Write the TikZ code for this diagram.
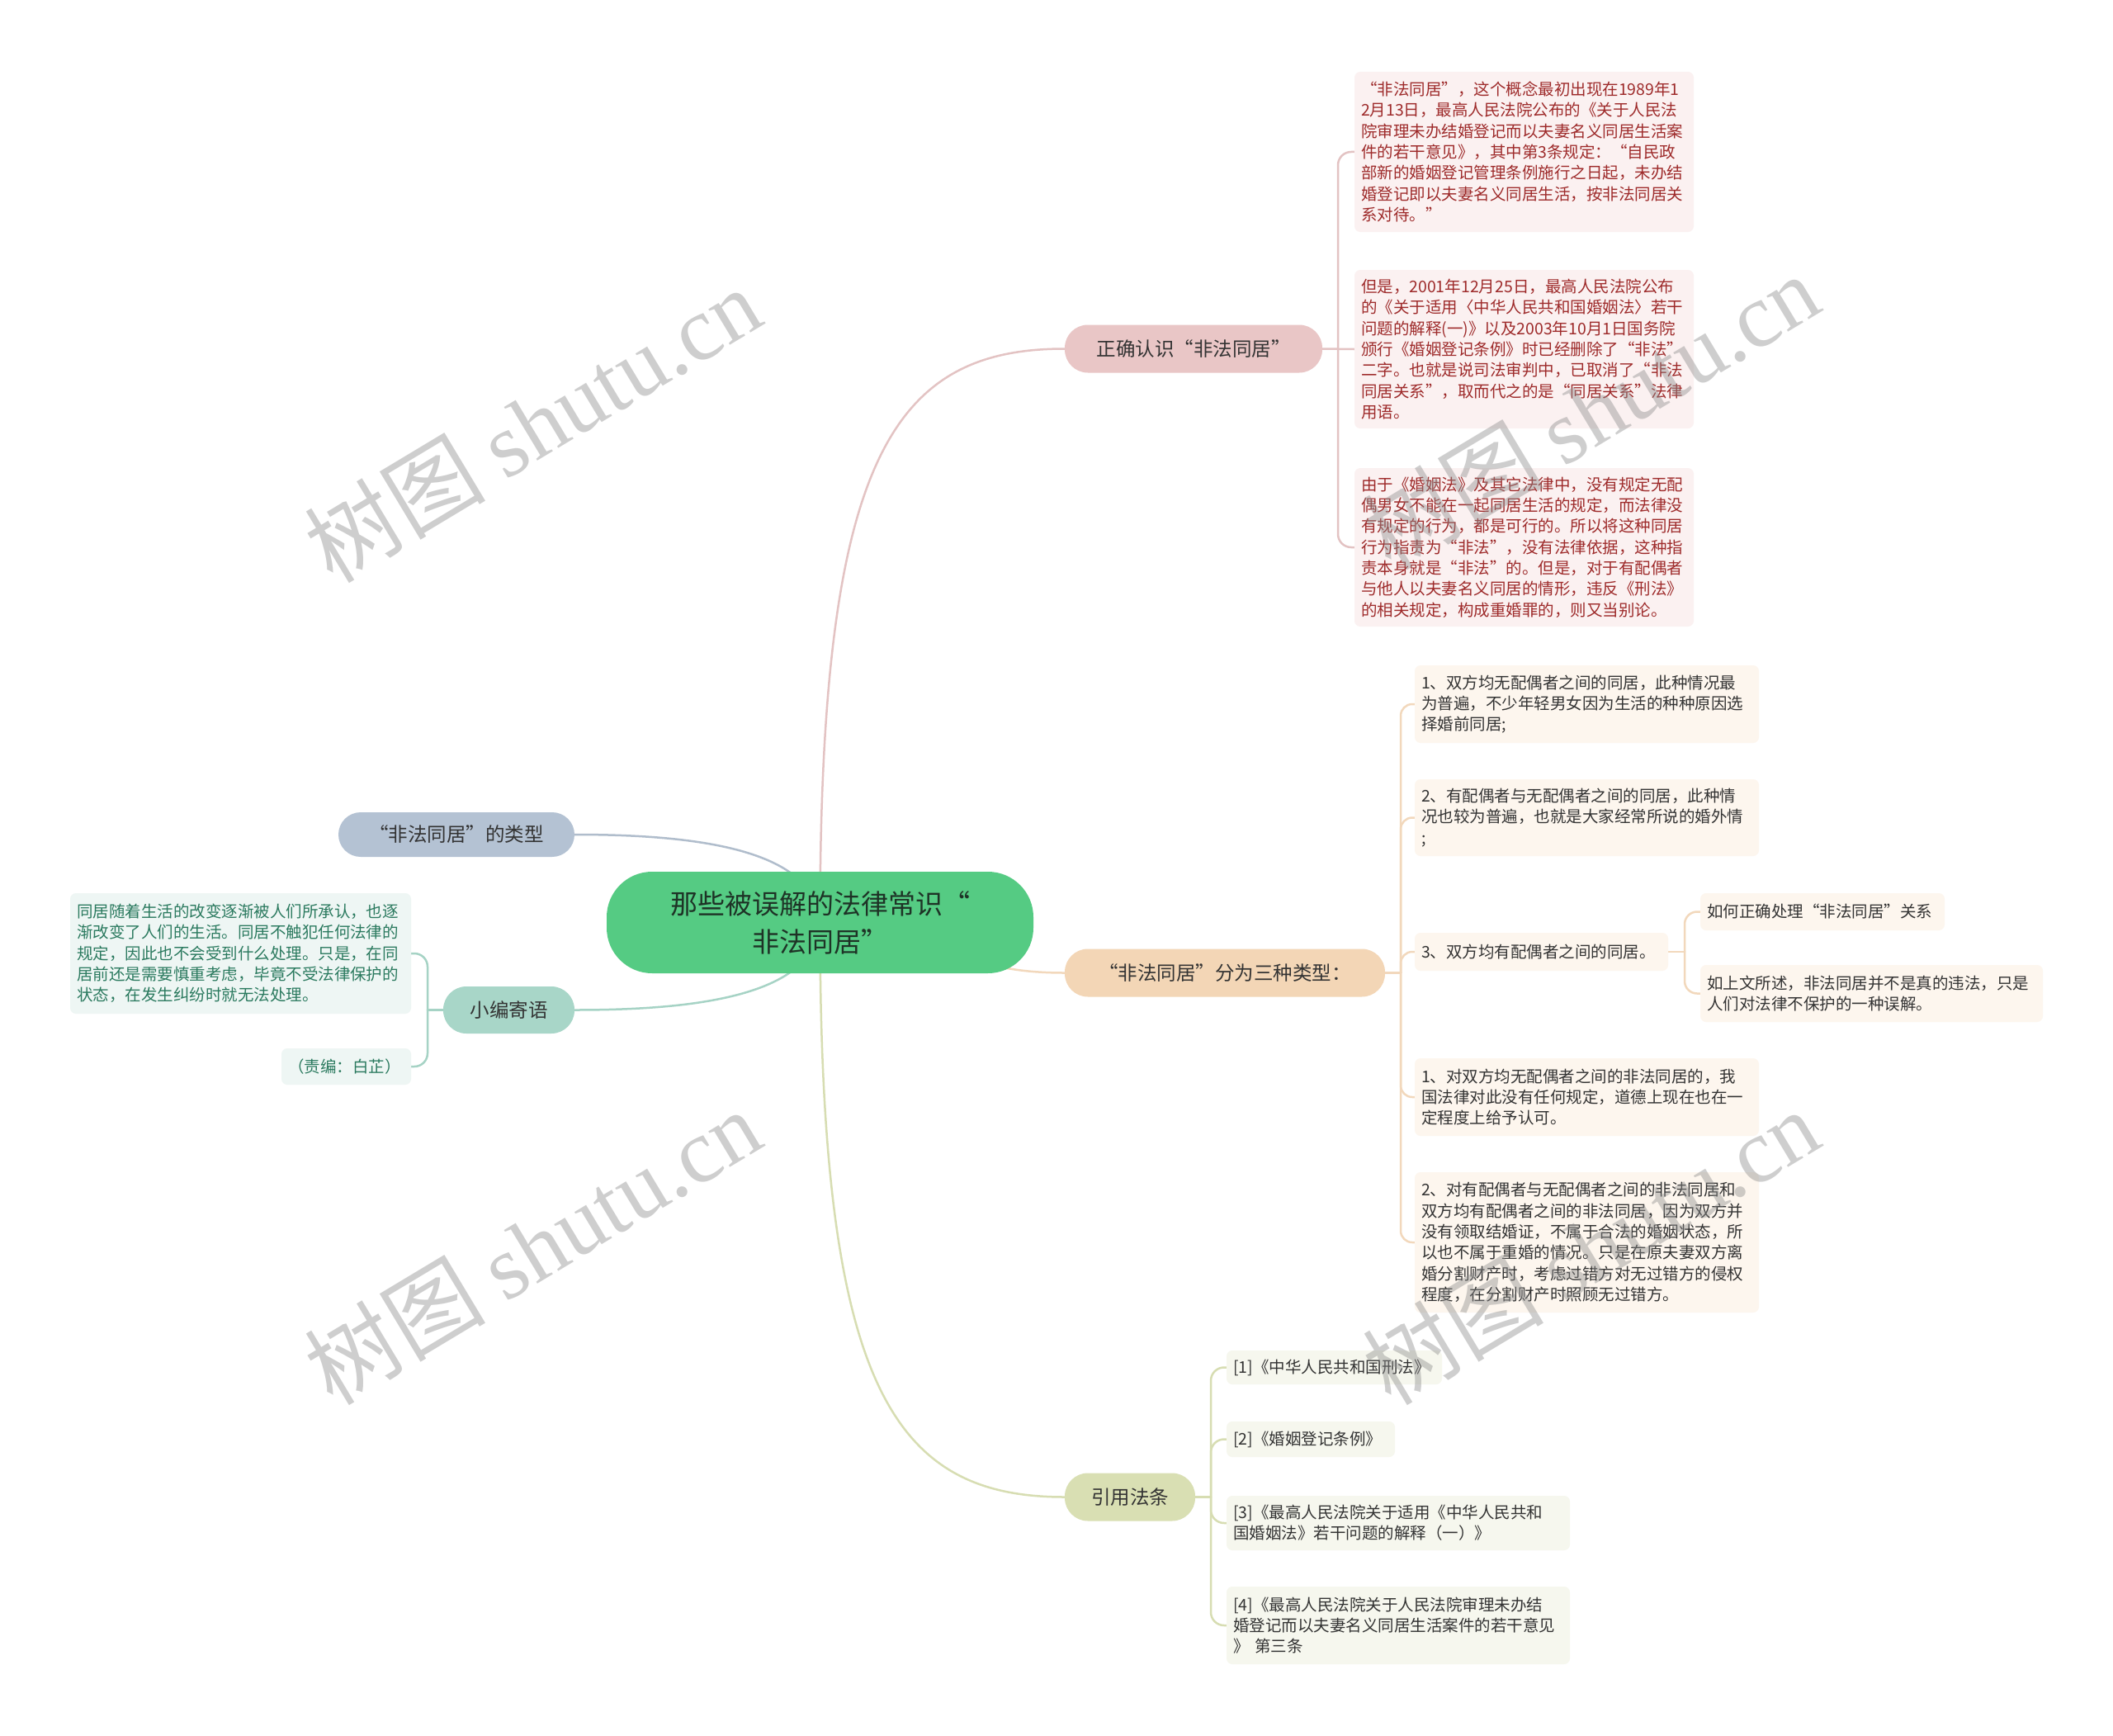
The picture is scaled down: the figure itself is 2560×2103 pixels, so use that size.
\documentclass[tikz,border=0pt]{standalone}
\usepackage{fontspec}
\setmainfont{Noto Sans CJK SC}
\newfontfamily\wmserif{Liberation Serif}
\usetikzlibrary{backgrounds}
\definecolor{rootfill}{HTML}{55CB83}
\definecolor{roottext}{HTML}{1E3326}
\definecolor{txtdark}{HTML}{333333}
\definecolor{zqfill}{HTML}{E9C6C6}
\definecolor{zqline}{HTML}{E3C3C3}
\definecolor{zqbox}{HTML}{FBF1F1}
\definecolor{zqtext}{HTML}{9E2B2B}
\definecolor{lxfill}{HTML}{F3D6B6}
\definecolor{lxline}{HTML}{F2D8BC}
\definecolor{lxbox}{HTML}{FDF6EE}
\definecolor{yyfill}{HTML}{D9DFB3}
\definecolor{yyline}{HTML}{D7DDB2}
\definecolor{yybox}{HTML}{F6F7EE}
\definecolor{ltfill}{HTML}{B4C2D3}
\definecolor{ltline}{HTML}{B0BDCC}
\definecolor{xbfill}{HTML}{A8D6C8}
\definecolor{xbline}{HTML}{A6D3C5}
\definecolor{xbbox}{HTML}{EEF6F4}
\definecolor{xbtext}{HTML}{2B7A5F}
\newcommand\leaffont{\fontsize{19.5pt}{25.3pt}\selectfont}
\newcommand\branchfont{\fontsize{23.5pt}{28pt}\selectfont}
\newcommand\rootfont{\fontsize{33pt}{46pt}\selectfont}
\newcommand\wmfont{\fontsize{110pt}{120pt}\selectfont}
\tikzset{
  leaf/.style={rounded corners=7pt, inner xsep=8pt, inner ysep=0pt, align=left, font=\leaffont},
  zqleaf/.style={leaf, fill=zqbox, text=zqtext},
  lxleaf/.style={leaf, fill=lxbox, text=txtdark},
  yyleaf/.style={leaf, fill=yybox, text=txtdark},
  xbleaf/.style={leaf, fill=xbbox, text=xbtext},
  branch/.style={rounded corners=28pt, minimum height=58pt, inner sep=0pt, font=\branchfont, text=txtdark},
  conn/.style={line width=2.5pt, line cap=round},
  wm/.style={rotate=31, text=black!45, opacity=0.42, font=\wmfont, inner sep=0pt},
}
\begin{document}
\begin{tikzpicture}[x=1pt,y=-1pt]
\useasboundingbox (0,0) rectangle (2560,2103);

% root
\node[fill=rootfill, rounded corners=55pt, minimum width=517pt, minimum height=123pt, inner sep=0pt,
      align=center, font=\rootfont, text=roottext] (root) at (993.5,1117.5)
      {那些被误解的法律常识“\\非法同居”};

% branches
\node[branch, fill=zqfill, minimum width=312pt] (zq) at (1446,422.5) {正确认识“非法同居”};
\node[branch, fill=lxfill, minimum width=388pt] (lx) at (1484,1178.5) {“非法同居”分为三种类型：};
\node[branch, fill=yyfill, minimum width=158pt] (yy) at (1369,1813.5) {引用法条};
\node[branch, fill=ltfill, minimum width=286pt, minimum height=54pt, rounded corners=27pt] (lt) at (553,1011) {“非法同居”的类型};
\node[branch, fill=xbfill, minimum width=159pt, minimum height=57pt] (xb) at (616.5,1223.5) {小编寄语};

% zq leaves
\node[zqleaf, text width=395pt, minimum height=194pt] (t1) at (1846.5,184) {“非法同居”，这个概念最初出现在1989年1\\2月13日，最高人民法院公布的《关于人民法\\院审理未办结婚登记而以夫妻名义同居生活案\\件的若干意见》，其中第3条规定：“自民政\\部新的婚姻登记管理条例施行之日起，未办结\\婚登记即以夫妻名义同居生活，按非法同居关\\系对待。”};
\node[zqleaf, text width=395pt, minimum height=192pt] (t2) at (1846.5,423) {但是，2001年12月25日，最高人民法院公布\\的《关于适用〈中华人民共和国婚姻法〉若干\\问题的解释(一)》以及2003年10月1日国务院\\颁行《婚姻登记条例》时已经删除了“非法”\\二字。也就是说司法审判中，已取消了“非法\\同居关系”，取而代之的是“同居关系”法律\\用语。};
\node[zqleaf, text width=395pt, minimum height=192pt] (t3) at (1846.5,663) {由于《婚姻法》及其它法律中，没有规定无配\\偶男女不能在一起同居生活的规定，而法律没\\有规定的行为，都是可行的。所以将这种同居\\行为指责为“非法”，没有法律依据，这种指\\责本身就是“非法”的。但是，对于有配偶者\\与他人以夫妻名义同居的情形，违反《刑法》\\的相关规定，构成重婚罪的，则又当别论。};

% lx leaves
\node[lxleaf, text width=401pt, minimum height=94pt] (c1) at (1922.5,853) {1、双方均无配偶者之间的同居，此种情况最\\为普遍，不少年轻男女因为生活的种种原因选\\择婚前同居;};
\node[lxleaf, text width=401pt, minimum height=93pt] (c2) at (1922.5,990.5) {2、有配偶者与无配偶者之间的同居，此种情\\况也较为普遍，也就是大家经常所说的婚外情\\;};
\node[lxleaf, text width=291pt, minimum height=46pt] (c3) at (1867.5,1153) {3、双方均有配偶者之间的同居。};
\node[lxleaf, text width=280pt, minimum height=45pt] (g1) at (2208,1104.5) {如何正确处理“非法同居”关系};
\node[lxleaf, text width=399pt, minimum height=69pt] (g2) at (2267.5,1203.5) {如上文所述，非法同居并不是真的违法，只是\\人们对法律不保护的一种误解。};
\node[lxleaf, text width=401pt, minimum height=94pt] (c4) at (1922.5,1329) {1、对双方均无配偶者之间的非法同居的，我\\国法律对此没有任何规定，道德上现在也在一\\定程度上给予认可。};
\node[lxleaf, text width=401pt, minimum height=170pt] (c5) at (1922.5,1505) {2、对有配偶者与无配偶者之间的非法同居和\\双方均有配偶者之间的非法同居，因为双方并\\没有领取结婚证，不属于合法的婚姻状态，所\\以也不属于重婚的情况。只是在原夫妻双方离\\婚分割财产时，考虑过错方对无过错方的侵权\\程度，在分割财产时照顾无过错方。};

% yy leaves
\node[yyleaf, text width=245pt, minimum height=41pt] (r1) at (1616.5,1656.5) {{}[1]《中华人民共和国刑法》};
\node[yyleaf, text width=188pt, minimum height=43pt] (r2) at (1588,1743.5) {{}[2]《婚姻登记条例》};
\node[yyleaf, text width=400pt, minimum height=66pt] (r3) at (1694,1845) {{}[3]《最高人民法院关于适用《中华人民共和\\国婚姻法》若干问题的解释（一）》};
\node[yyleaf, text width=400pt, minimum height=94pt] (r4) at (1694,1969) {{}[4]《最高人民法院关于人民法院审理未办结\\婚登记而以夫妻名义同居生活案件的若干意见\\》 第三条};

% xb leaves
\node[xbleaf, text width=397pt, minimum height=146pt] (lt1) at (291.5,1155) {同居随着生活的改变逐渐被人们所承认，也逐\\渐改变了人们的生活。同居不触犯任何法律的\\规定，因此也不会受到什么处理。只是，在同\\居前还是需要慎重考虑，毕竟不受法律保护的\\状态，在发生纠纷时就无法处理。};
\node[xbleaf, text width=141pt, minimum height=44pt] (lt2) at (419.5,1292) {（责编：白芷）};

% junctions
\coordinate (jzq) at (1621,422.5);
\coordinate (jlx) at (1697,1178.5);
\coordinate (jc3) at (2041,1153);
\coordinate (jyy) at (1467,1813.5);
\coordinate (jxb) at (518,1223.5);

\begin{pgfonlayer}{background}
\fill[white] (0,0) rectangle (2560,2103);
% root connectors
\draw[conn, draw=zqline] (root.center) .. controls +(0,-560) and +(-210,0) .. (zq.west);
\draw[conn, draw=yyline] (root.center) .. controls +(0,560) and +(-210,0) .. (yy.west);
\draw[conn, draw=lxline] (root.center) .. controls +(150,0) and +(-150,0) .. (lx.west);
\draw[conn, draw=ltline] (root.center) .. controls +(-5,-87) and +(154,0) .. (lt.east);
\draw[conn, draw=xbline] (root.center) .. controls +(-5,87) and +(154,0) .. (xb.east);

% zq bracket
\draw[conn, draw=zqline] (zq.east) -- (t2.west);
\draw[conn, draw=zqline, rounded corners=16pt] (jzq) |- (t1.west);
\draw[conn, draw=zqline, rounded corners=16pt] (jzq) |- (t3.west);

% lx bracket
\draw[conn, draw=lxline] (lx.east) -- (jlx);
\foreach \c in {c1,c2,c3,c4,c5}
  \draw[conn, draw=lxline, rounded corners=14pt] (jlx) |- (\c.west);
\draw[conn, draw=lxline] (c3.east) -- (jc3);
\draw[conn, draw=lxline, rounded corners=15pt] (jc3) |- (g1.west);
\draw[conn, draw=lxline, rounded corners=15pt] (jc3) |- (g2.west);

% yy bracket
\draw[conn, draw=yyline] (yy.east) -- (jyy);
\foreach \c in {r1,r2,r3,r4}
  \draw[conn, draw=yyline, rounded corners=16pt] (jyy) |- (\c.west);

% xb bracket
\draw[conn, draw=xbline] (xb.west) -- (jxb);
\draw[conn, draw=xbline, rounded corners=16pt] (jxb) |- (lt1.east);
\draw[conn, draw=xbline, rounded corners=16pt] (jxb) |- (lt2.east);
\end{pgfonlayer}

% watermarks
\node[wm] (wm1) at (645,514) {树图 {\wmserif shutu.cn}};
\node[wm] (wm2) at (1927,498) {树图 {\wmserif shutu.cn}};
\node[wm] (wm3) at (645,1510) {树图 {\wmserif shutu.cn}};
\node[wm] (wm4) at (1927,1510) {树图 {\wmserif shutu.cn}};
\end{tikzpicture}
\end{document}
